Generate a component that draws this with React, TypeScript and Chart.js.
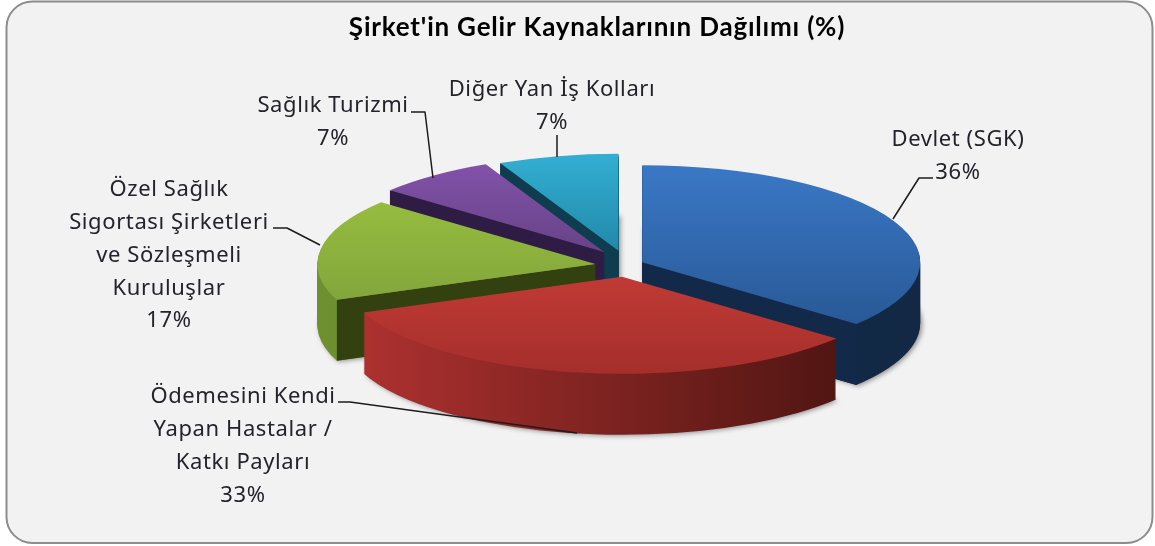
import React, { useEffect, useRef } from "react";
import { Chart, registerables } from "chart.js";

Chart.register(...registerables);

const titleText = "Şirket'in Gelir Kaynaklarının Dağılımı (%)";
const categories = [
  "Devlet (SGK)",
  "Ödemesini Kendi Yapan Hastalar / Katkı Payları",
  "Özel Sağlık Sigortası Şirketleri ve Sözleşmeli Kuruluşlar",
  "Sağlık Turizmi",
  "Diğer Yan İş Kolları",
];
const shares = [36, 33, 17, 7, 7];
const labelLines = [
  ["Devlet (SGK)"],
  ["Ödemesini Kendi", "Yapan Hastalar /", "Katkı Payları"],
  ["Özel Sağlık", "Sigortası Şirketleri", "ve Sözleşmeli", "Kuruluşlar"],
  ["Sağlık Turizmi"],
  ["Diğer Yan İş Kolları"],
];
const explode = [19, 19, 30, 34, 30];

const topColors = [
  ["#3a78c6", "#25528c"],
  ["#dc4740", "#a52e2b"],
  ["#9cc440", "#78983a"],
  ["#8553ad", "#483360"],
  ["#33afd3", "#0f6380"],
];
const wallColors = [
  ["#15304f", "#122844"],
  ["#b03230", "#45120f"],
  ["#6f9030", "#5c7a26"],
  ["#2f1c44", "#2f1c44"],
  ["#0f3d4f", "#0f3d4f"],
];
const faceColors = ["#13294a", "#45120f", "#33400f", "#2f1c44", "#0f3d4f"];

const PIE = { rx: 278, ry: 97, pullRatioY: 0.54, depth: 61, shiftX: 28 };
const paintOrder = [4, 3, 2, 0, 1];
const labelBoxes = [
  { x: 958, y: 140 },
  { x: 243, y: 397 },
  { x: 169, y: 190 },
  { x: 333, y: 106 },
  { x: 552, y: 90 },
];
const leaderLines = [
  [[893, 219], [919, 178], [933, 178]],
  [[338, 402], [350, 402], [577, 433]],
  [[273, 228], [287, 228], [320, 245]],
  [[411, 112], [425, 112], [433, 178]],
  [[557, 135], [557, 157]],
];

const framePlugin = {
  id: "frame",
  beforeDraw(chart: any) {
    const c = chart.ctx;
    c.save();
    c.fillStyle = "#ffffff";
    c.fillRect(0, 0, chart.width, chart.height);
    c.beginPath();
    c.roundRect(6.5, 1.5, 1146, 541.5, 26);
    c.fillStyle = "#f2f2f2";
    c.fill();
    c.strokeStyle = "#8c8c8c";
    c.lineWidth = 2;
    c.stroke();
    c.restore();
    c.letterSpacing = "0.8px";
  },
};

const pie3dPlugin = {
  id: "pie3d",
  beforeDatasetsDraw(chart: any) {
    const c = chart.ctx;
    c.letterSpacing = "0px";
    const arcs = chart.getDatasetMeta(0).data;
    for (const i of paintOrder) {
      const arc = arcs[i];
      const { x, y, startAngle, endAngle, outerRadius: R } = arc;
      const mid = (startAngle + endAngle) / 2;
      const ax = x + PIE.shiftX + Math.cos(mid) * explode[i];
      const ay = y + Math.sin(mid) * explode[i] * PIE.pullRatioY;
      const sx = PIE.rx / R;
      const sy = PIE.ry / R;

      // curved outer wall
      const g = c.createLinearGradient(x - R, 0, x + R, 0);
      g.addColorStop(0, wallColors[i][0]);
      g.addColorStop(1, wallColors[i][1]);
      for (let d = PIE.depth; d >= 1; d--) {
        c.save();
        if (d === PIE.depth) {
          c.shadowColor = "rgba(60,60,60,0.55)";
          c.shadowBlur = 5;
          c.shadowOffsetX = 2;
          c.shadowOffsetY = 1;
        }
        c.translate(ax, ay + d);
        c.scale(sx, sy);
        c.translate(-x, -y);
        c.beginPath();
        c.moveTo(x, y);
        c.arc(x, y, R, startAngle, endAngle);
        c.closePath();
        c.fillStyle = g;
        c.fill();
        c.restore();
      }

      // radial cut faces that turn toward the viewer
      const face = (theta: number) => {
        const rx = ax + Math.cos(theta) * PIE.rx;
        const ry = ay + Math.sin(theta) * PIE.ry;
        c.beginPath();
        c.moveTo(ax, ay);
        c.lineTo(rx, ry);
        c.lineTo(rx, ry + PIE.depth);
        c.lineTo(ax, ay + PIE.depth);
        c.closePath();
        c.fillStyle = faceColors[i];
        c.fill();
      };
      if (Math.cos(startAngle) < -1e-6) face(startAngle);
      if (Math.cos(endAngle) > 1e-6) face(endAngle);

      // top face: the library's own arc element
      c.save();
      c.translate(ax, ay);
      c.scale(sx, sy);
      c.translate(-x, -y);
      arc.draw(c);
      c.restore();
    }
    return false;
  },
  afterDraw(chart: any) {
    const c = chart.ctx;
    c.save();
    c.strokeStyle = "#1c1c1c";
    c.lineWidth = 1.5;
    c.lineJoin = "round";
    leaderLines.forEach((line) => {
      c.beginPath();
      line.forEach(([px, py], k) => (k ? c.lineTo(px, py) : c.moveTo(px, py)));
      c.stroke();
    });
    c.font = '22px "Noto Sans"';
    c.letterSpacing = "0.6px";
    c.fillStyle = "#23232b";
    c.textAlign = "center";
    c.textBaseline = "middle";
    labelLines.forEach((lines, i) => {
      const all = [...lines, shares[i] + "%"];
      all.forEach((t, k) => {
        c.fillText(t, labelBoxes[i].x, labelBoxes[i].y + k * 32.8);
      });
    });
    c.restore();
  },
};

export default function App() {
  const ref = useRef<HTMLCanvasElement>(null);
  useEffect(() => {
    const chart = new Chart(ref.current!, {
      type: "pie",
      data: {
        labels: categories,
        datasets: [
          {
            data: shares,
            borderWidth: 0,
            backgroundColor: (ctx: any) => {
              const area = ctx.chart.chartArea;
              if (!area || ctx.dataIndex === undefined) return topColors[0][0];
              const g = ctx.chart.ctx.createLinearGradient(0, area.top, 0, area.bottom);
              const pair = topColors[ctx.dataIndex];
              g.addColorStop(0, pair[0]);
              g.addColorStop(1, pair[1]);
              return g;
            },
          },
        ],
      },
      options: {
        responsive: false,
        animation: false,
        layout: { padding: { left: 39, right: 0, top: 0, bottom: 66 } },
        plugins: {
          legend: { display: false },
          tooltip: { enabled: false },
          title: {
            display: true,
            text: titleText,
            color: "#000000",
            font: { family: "Lato", size: 26, weight: "bold" },
            padding: { top: 12, bottom: 10 },
          },
        },
      },
      plugins: [framePlugin, pie3dPlugin],
    } as any);
    return () => chart.destroy();
  }, []);
  return (
    <div style={{ position: "absolute", left: 0, top: 0, width: 1155, height: 546 }}>
      <canvas ref={ref} width={1155} height={546} style={{ display: "block" }} />
    </div>
  );
}
